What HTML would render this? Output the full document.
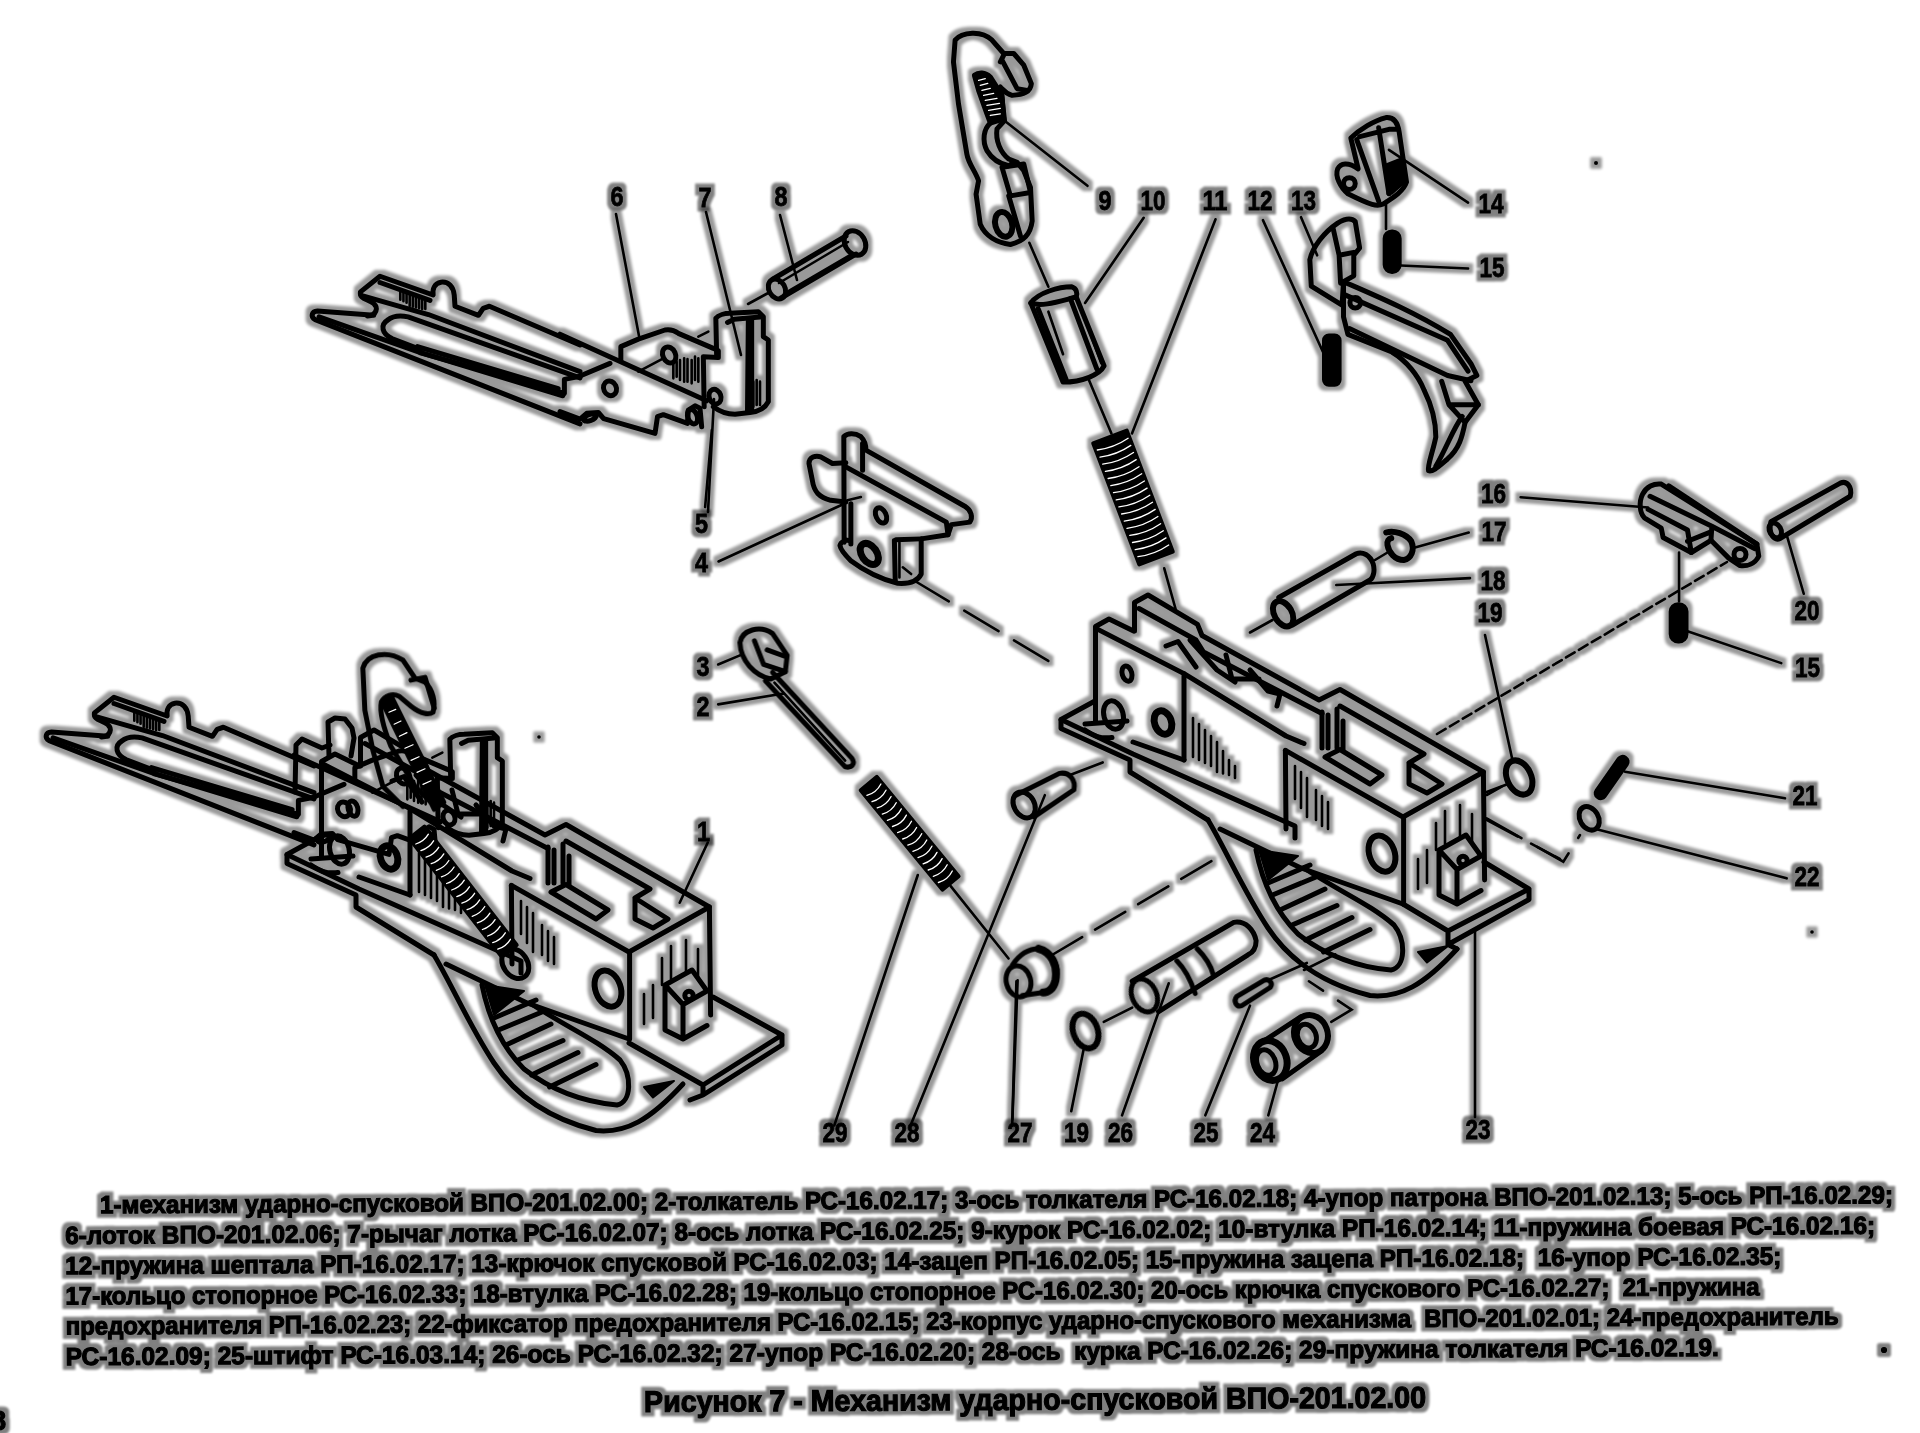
<!DOCTYPE html>
<html><head><meta charset="utf-8"><style>
html,body{margin:0;padding:0;background:#fff;width:1920px;height:1433px;overflow:hidden}
svg{display:block}
text{font-family:"Liberation Sans",sans-serif;font-weight:bold;fill:#000}
.s{fill:none;stroke:#000;stroke-width:5;stroke-linejoin:round;stroke-linecap:round}
.t{fill:none;stroke:#000;stroke-width:2.6;stroke-linecap:round}
.w{fill:#fff;stroke:#000;stroke-width:4.5;stroke-linejoin:round;stroke-linecap:round}
.k{fill:#000;stroke:#000;stroke-width:2;stroke-linejoin:round}
.n{font-size:27px}
</style></head><body>
<svg width="1920" height="1433" viewBox="0 0 1920 1433">
<defs><filter id="halo" x="-2%" y="-2%" width="104%" height="104%" color-interpolation-filters="sRGB">
<feMorphology operator="dilate" radius="3.5" in="SourceAlpha" result="d"/>
<feGaussianBlur in="d" stdDeviation="1.5" result="b"/>
<feComponentTransfer in="b" result="g"><feFuncA type="linear" slope="0.4"/></feComponentTransfer>
<feMerge><feMergeNode in="g"/><feMergeNode in="SourceGraphic"/></feMerge></filter>
<filter id="haloT" x="-2%" y="-20%" width="104%" height="140%" color-interpolation-filters="sRGB">
<feMorphology operator="dilate" radius="3.5" in="SourceAlpha" result="d"/>
<feGaussianBlur in="d" stdDeviation="1.2" result="b"/>
<feComponentTransfer in="b" result="g"><feFuncA type="linear" slope="0.5"/></feComponentTransfer>
<feMerge><feMergeNode in="g"/><feMergeNode in="SourceGraphic"/></feMerge></filter></defs>
<g id="text" filter="url(#haloT)" stroke="#000" stroke-width="1.2"><g transform="rotate(-0.32 65 1213)">
<text x="100" y="1213.5" font-size="25" textLength="1793" lengthAdjust="spacingAndGlyphs">1-механизм ударно-спусковой ВПО-201.02.00; 2-толкатель РС-16.02.17; 3-ось толкателя РС-16.02.18; 4-упор патрона ВПО-201.02.13; 5-ось РП-16.02.29;</text>
<text x="65" y="1244" font-size="25" textLength="1810" lengthAdjust="spacingAndGlyphs">6-лоток ВПО-201.02.06; 7-рычаг лотка РС-16.02.07; 8-ось лотка РС-16.02.25; 9-курок РС-16.02.02; 10-втулка РП-16.02.14; 11-пружина боевая РС-16.02.16;</text>
<text x="65" y="1274.3" font-size="25" textLength="1716" lengthAdjust="spacingAndGlyphs" xml:space="preserve">12-пружина шептала РП-16.02.17; 13-крючок спусковой РС-16.02.03; 14-зацеп РП-16.02.05; 15-пружина зацепа РП-16.02.18;  16-упор РС-16.02.35;</text>
<text x="65" y="1304.6" font-size="25" textLength="1694" lengthAdjust="spacingAndGlyphs" xml:space="preserve">17-кольцо стопорное РС-16.02.33; 18-втулка РС-16.02.28; 19-кольцо стопорное РС-16.02.30; 20-ось крючка спускового РС-16.02.27;  21-пружина</text>
<text x="65" y="1334.6" font-size="25" textLength="1773" lengthAdjust="spacingAndGlyphs" xml:space="preserve">предохранителя РП-16.02.23; 22-фиксатор предохранителя РС-16.02.15; 23-корпус ударно-спускового механизма  ВПО-201.02.01; 24-предохранитель</text>
<text x="65" y="1365.2" font-size="25" textLength="1653" lengthAdjust="spacingAndGlyphs" xml:space="preserve">РС-16.02.09; 25-штифт РС-16.03.14; 26-ось РС-16.02.32; 27-упор РС-16.02.20; 28-ось  курка РС-16.02.26; 29-пружина толкателя РС-16.02.19.</text>
<text x="643" y="1415.2" font-size="30" textLength="782" lengthAdjust="spacingAndGlyphs">Рисунок 7 - Механизм ударно-спусковой ВПО-201.02.00</text>
</g>
<text x="-9" y="1430" font-size="27">8</text>
<circle cx="1884" cy="1350" r="2.5" fill="#000"/>
</g>
<g filter="url(#halo)">
<g id="lotok">
<!-- part 6 left portion: zoom 6.4 origin 280,270 -->
<g transform="translate(280,270) scale(0.15625)" class="s" style="vector-effect:non-scaling-stroke">
<path vector-effect="non-scaling-stroke" d="M600,290 L240,262 C200,265 195,300 225,318 L1920,985"/>
<path vector-effect="non-scaling-stroke" d="M250,300 L890,525 L1810,805"/>
<path vector-effect="non-scaling-stroke" d="M560,295 C620,290 630,240 600,215 C560,185 505,185 515,140 L640,40 L980,160 C975,120 990,85 1030,78 C1080,72 1110,110 1115,160 L1120,232 L1270,290 L1300,245 L1340,232 L1920,480"/>
<path vector-effect="non-scaling-stroke" d="M530,165 L950,285 L1920,650"/>
<path vector-effect="non-scaling-stroke" d="M640,80 L960,195"/>
<path vector-effect="non-scaling-stroke" d="M900,510 L720,440 C650,410 640,350 690,320 C720,295 770,290 820,300 L1920,690"/>
<path vector-effect="non-scaling-stroke" d="M900,530 L1820,790 L1820,700 L1920,680"/>
<path vector-effect="non-scaling-stroke" d="M880,490 L1780,760"/>
</g>
<g transform="translate(280,270) scale(0.15625)" class="t">
<path vector-effect="non-scaling-stroke" d="M770,140 V190 M790,145 V200 M810,150 V210 M830,155 V230 M850,162 V235 M870,168 V240 M890,175 V245 M910,185 V250 M930,190 V250"/>
</g>
<!-- part 6 right + 7 + 5: zoom 6 origin 560,240 -->
<g transform="translate(560,240) scale(0.1666667)" class="s">
<path vector-effect="non-scaling-stroke" d="M0,565 L880,965"/>
<path vector-effect="non-scaling-stroke" d="M120,816 L300,740"/>
<path vector-effect="non-scaling-stroke" d="M365,725 L365,640 L470,595 L630,540 C660,535 690,545 710,560 L920,650 L950,665 L950,705 L860,700 L865,1000"/>
<path vector-effect="non-scaling-stroke" d="M940,700 L935,470 C950,450 990,440 1020,440 L1190,430 L1220,460 L1220,580 L1250,600 L1250,970 C1230,1010 1190,1030 1140,1035 L1050,1045 C1000,1045 960,1030 920,1000"/>
<path vector-effect="non-scaling-stroke" d="M1005,495 L1045,475 L1200,462"/>
<path vector-effect="non-scaling-stroke" d="M1130,480 L1125,1035 M1150,480 L1150,1020"/>
<path vector-effect="non-scaling-stroke" d="M0,1030 L120,1075 L160,1040 L230,1035 L262,1072 L570,1160 L585,1060 L620,1048 L765,1100 L770,1020 L810,995 L840,1010 L850,1120"/>
<ellipse vector-effect="non-scaling-stroke" cx="655" cy="690" rx="38" ry="50" transform="rotate(-25 655 690)"/>
<ellipse vector-effect="non-scaling-stroke" cx="300" cy="890" rx="38" ry="45" transform="rotate(-25 300 890)"/>
<ellipse vector-effect="non-scaling-stroke" cx="930" cy="940" rx="35" ry="45" transform="rotate(-20 930 940)"/>
<ellipse vector-effect="non-scaling-stroke" cx="795" cy="1060" rx="28" ry="45" transform="rotate(-20 795 1060)"/>
<ellipse vector-effect="non-scaling-stroke" cx="180" cy="1065" rx="40" ry="18" transform="rotate(-20 180 1065)"/>
</g>
<g transform="translate(560,240) scale(0.1666667)" class="t">
<path vector-effect="non-scaling-stroke" d="M680,740 V830 M700,730 V820 M720,720 V840 M745,710 V850 M765,715 V850 M790,720 V860 M810,700 V840 M830,710 V850"/>
<path vector-effect="non-scaling-stroke" d="M470,790 L620,710 M830,580 L890,550 M1160,850 V1000 M1180,840 V990 M1200,850 V990"/>
</g>
</g>
<!-- pin 8 -->
<g class="s">
<path d="M773,279 L846,236 M781,298 L856,254"/>
<ellipse cx="777" cy="289" rx="8" ry="10.5" transform="rotate(-30 777 289)"/>
<ellipse cx="855" cy="243" rx="10" ry="13" transform="rotate(-30 855 243)"/>
</g>
<path class="t" d="M779,283 L848,242 M785,293 L850,255 M748,304 L770,292 M780,215 L797,280"/>
<path class="t" d="M616,214 L639,336 M706,212 L741,355 M714,399 L708,512"/>
<!-- part 4: zoom 5.97 origin 680,430 -->
<g transform="translate(680,430) scale(0.1675)" class="s">
<path vector-effect="non-scaling-stroke" d="M990,430 L900,420 C830,400 800,370 790,300 L770,200 C770,160 810,150 840,160 L910,200 L990,195"/>
<path vector-effect="non-scaling-stroke" d="M980,670 L978,40 C1000,20 1040,15 1080,40 C1100,60 1110,90 1110,120 L1700,455 C1740,480 1750,520 1730,550 L1620,565 L1600,625 L1440,650 L1440,860 C1420,900 1370,920 1300,915 C1200,890 1100,840 1020,780 C990,750 960,720 955,690 C960,665 990,655 1010,660"/>
<path vector-effect="non-scaling-stroke" d="M990,220 L1590,550 L1600,625"/>
<path vector-effect="non-scaling-stroke" d="M1020,440 L1020,680"/>
<path vector-effect="non-scaling-stroke" d="M1280,660 L1285,900 M1290,655 L1440,650"/>
<path vector-effect="non-scaling-stroke" d="M1090,80 L1090,240"/>
<ellipse vector-effect="non-scaling-stroke" cx="1200" cy="510" rx="30" ry="48" transform="rotate(-25 1200 510)"/>
<ellipse vector-effect="non-scaling-stroke" cx="1130" cy="740" rx="45" ry="70" transform="rotate(-35 1130 740)" style="stroke-width:7"/>
</g>
<g transform="translate(680,430) scale(0.1675)" class="t">
<path vector-effect="non-scaling-stroke" d="M230,785 L980,440 M1000,420 L1080,400 M190,0 L150,460 M1310,670 L1310,880 M1330,820 L1380,860"/>
<path vector-effect="non-scaling-stroke" d="M1400,900 L2239,1403" stroke-dasharray="40 18"/>
</g>
<!-- hammer 9: zoom 5.97 origin 930,20 -->
<g transform="translate(930,20) scale(0.1675)" class="s">
<path vector-effect="non-scaling-stroke" d="M150,120 C190,70 310,60 370,120 L440,200 L500,200 L560,270 L605,380 C600,430 560,445 490,450 C450,440 440,420 420,400 L430,470 L445,600 L400,650 C390,720 420,790 470,830 L520,850 L560,900 L600,1000 L610,1200 C600,1280 560,1320 480,1340 C400,1330 330,1290 300,1220 L275,1040 L290,960 C270,900 230,860 220,800 L170,500 L140,250 Z"/>
<path vector-effect="non-scaling-stroke" d="M265,330 C290,310 330,310 360,340 L430,450 L440,590 L360,615 L340,560 L290,420 Z" style="fill:#000"/>
<path vector-effect="non-scaling-stroke" d="M360,615 C320,650 310,720 340,780 C370,830 420,860 470,870 L500,850"/>
<path vector-effect="non-scaling-stroke" d="M420,250 L440,210 M430,240 L520,410 L580,420"/>
<path vector-effect="non-scaling-stroke" d="M430,880 L560,860 L600,1030 L480,1050 Z"/>
<path vector-effect="non-scaling-stroke" d="M470,1050 L540,1290"/>
<ellipse vector-effect="non-scaling-stroke" cx="440" cy="1220" rx="50" ry="75" transform="rotate(-15 440 1220)" style="stroke-width:6"/>
</g>
<g transform="translate(930,20) scale(0.1675)" class="t">
<path vector-effect="non-scaling-stroke" d="M430,590 L940,990"/>
<path vector-effect="non-scaling-stroke" d="M290,360 L330,350 M300,390 L345,378 M310,420 L360,408 M320,450 L380,438 M330,480 L400,468 M340,510 L415,498 M350,540 L420,528 M360,570 L420,560" style="stroke:#fff;stroke-width:1.3"/>
</g>
<!-- bushing 10 + spring 11: zoom 3.41 origin 1000,190 -->
<g transform="translate(1000,190) scale(0.29326)" class="s">
<path vector-effect="non-scaling-stroke" d="M105,385 C130,350 200,330 245,330 C260,335 265,350 260,365 L355,600 C340,630 280,655 215,655 Z"/>
<path vector-effect="non-scaling-stroke" d="M105,385 C140,400 200,380 260,365"/>
<path vector-effect="non-scaling-stroke" d="M130,405 L225,645 M240,370 L330,610"/>
</g>
<g transform="translate(1000,190) scale(0.29326)" class="t">
<path vector-effect="non-scaling-stroke" d="M165,415 L215,560 M260,360 L345,590 M100,180 L165,330 M300,640 L380,830 M560,1290 L600,1433 M490,95 L290,385 M735,100 L450,830"/>
</g>
<g id="spring11"><path d="M1093.2,443.4 L1139.2,564.4 L1172.8,551.6 L1126.8,430.6 Z" fill="#000" stroke="#000" stroke-width="4" stroke-linejoin="round"/>
<path d="M1097.3,450.0 Q1114.1,447.9 1128.1,438.3 M1100.0,457.1 Q1116.8,455.0 1130.8,445.4 M1102.7,464.2 Q1119.5,462.1 1133.5,452.5 M1105.4,471.3 Q1122.2,469.2 1136.2,459.6 M1108.1,478.5 Q1125.0,476.3 1139.0,466.7 M1110.8,485.6 Q1127.7,483.4 1141.7,473.8 M1113.5,492.7 Q1130.4,490.6 1144.4,481.0 M1116.2,499.8 Q1133.1,497.7 1147.1,488.1 M1118.9,506.9 Q1135.8,504.8 1149.8,495.2 M1121.6,514.0 Q1138.5,511.9 1152.5,502.3 M1124.3,521.2 Q1141.2,519.0 1155.2,509.4 M1127.0,528.3 Q1143.9,526.2 1157.9,516.5 M1129.8,535.4 Q1146.6,533.3 1160.6,523.7 M1132.5,542.5 Q1149.3,540.4 1163.3,530.8 M1135.2,549.6 Q1152.0,547.5 1166.0,537.9 M1137.9,556.7 Q1154.7,554.6 1168.7,545.0" fill="none" stroke="#fff" stroke-width="1.3" stroke-linecap="round"/></g>
<!-- parts 12-15: zoom 3.4125 origin 1260,100 -->
<g transform="translate(1260,100) scale(0.29304)" class="s">
<path vector-effect="non-scaling-stroke" d="M310,130 C340,100 390,70 430,60 C455,58 470,75 475,110 L500,280 C490,310 460,330 420,355 C400,365 380,360 300,320 C275,300 255,260 265,235 C275,215 300,210 335,235 L310,130 Z"/>
<path vector-effect="non-scaling-stroke" d="M330,135 L405,345 M340,125 L440,100 L465,100 M405,95 L440,320"/>
<circle vector-effect="non-scaling-stroke" cx="305" cy="285" r="20"/>
<path vector-effect="non-scaling-stroke" d="M175,635 L170,545 C180,500 220,450 265,420 C290,405 310,400 325,415 L340,505 L320,530 L320,600 L285,620 L280,700 Z"/>
<path vector-effect="non-scaling-stroke" d="M250,440 L270,530 L320,520 M270,530 L275,625"/>
<path vector-effect="non-scaling-stroke" d="M285,620 C400,670 520,720 650,800 L720,900 L740,940 L700,960 L745,1040 L700,1100 C690,1150 680,1190 640,1225 C610,1250 590,1270 575,1265 C570,1250 590,1200 600,1150 C600,1100 590,1050 560,990 C540,940 500,890 450,860 L300,800 L285,740 Z"/>
<path vector-effect="non-scaling-stroke" d="M290,665 L640,820 L710,925 M305,780 L640,940 L720,958 M620,960 L645,1040 L745,1040 M645,1040 L700,1100 M690,1080 C660,1120 640,1180 600,1250"/>
<circle vector-effect="non-scaling-stroke" cx="325" cy="692" r="18"/>
</g>
<g transform="translate(1260,100) scale(0.29304)" class="t">
<path vector-effect="non-scaling-stroke" d="M440,170 L710,350 M480,565 L710,575 M430,345 L430,440 M10,410 L215,860 M140,400 L195,530"/>
<path vector-effect="non-scaling-stroke" d="M430,220 L480,200 L495,280 L450,320 L435,320 Z" style="fill:#000;stroke-width:2"/>
</g>
<g transform="translate(1260,100) scale(0.29304)" class="k">
<rect vector-effect="non-scaling-stroke" x="422" y="445" width="58" height="145" rx="28"/>
<rect vector-effect="non-scaling-stroke" x="215" y="800" width="60" height="175" rx="20"/>
</g>
<!-- body 23 -->
<g id="body23">
<g transform="translate(1040,580) scale(0.3)" class="s">
<!-- left plate -->
<path vector-effect="non-scaling-stroke" d="M185,470 L185,155 L230,130 L312,170"/>
<path vector-effect="non-scaling-stroke" d="M188,162 L480,312 L480,600"/>
<path vector-effect="non-scaling-stroke" d="M310,540 L480,600"/>
<!-- inner wall -->
<path vector-effect="non-scaling-stroke" d="M315,170 L315,75 L360,50 L525,148 L540,185 L930,400 L1000,365 L1478,640 L1210,790 L818,568"/>
<path vector-effect="non-scaling-stroke" d="M330,95 L520,200 L545,240 L940,445"/>
<path vector-effect="non-scaling-stroke" d="M480,312 L820,520 L880,545"/>
<path vector-effect="non-scaling-stroke" d="M818,568 L820,830 M1478,640 L1482,1000 M1212,790 L1212,1080"/>
<path vector-effect="non-scaling-stroke" d="M420,220 L460,205 L520,290 M500,200 L590,300 L650,340 M620,250 L640,330 L730,330 M700,300 L760,370 L800,380 L790,420"/>
<!-- top slots of right box -->
<path vector-effect="non-scaling-stroke" d="M950,590 L1000,565 L1140,650 L1100,680 Z"/>
<path vector-effect="non-scaling-stroke" d="M1000,420 L1280,580 L1230,610 L1340,680 L1290,710 L1230,680 L1230,610 M990,430 L990,560"/>
<path vector-effect="non-scaling-stroke" d="M940,440 L940,560 M960,450 L960,560 M1010,470 L1010,565"/>
<!-- flange left + lower rail -->
<path vector-effect="non-scaling-stroke" d="M180,405 L70,465 L70,495 L300,600 L300,640 L560,800"/>
<path vector-effect="non-scaling-stroke" d="M70,465 L310,580 L850,820 L850,860"/>
<path vector-effect="non-scaling-stroke" d="M150,480 L290,470 M150,500 C180,520 200,530 240,525"/>
<!-- trigger guard -->
<path vector-effect="non-scaling-stroke" d="M560,800 C620,900 680,1040 760,1160 C840,1280 960,1350 1100,1385 C1200,1395 1280,1350 1390,1230"/>
<path vector-effect="non-scaling-stroke" d="M720,900 C740,1000 780,1100 860,1180 C950,1250 1060,1290 1170,1300 C1220,1290 1220,1200 1180,1150 C1100,1080 1000,1040 880,960"/>
<path vector-effect="non-scaling-stroke" d="M600,830 L870,960 L1210,1080"/>
<path vector-effect="non-scaling-stroke" d="M760,1010 L900,950 M775,1050 L920,990 M800,1100 L950,1030 M840,1150 L990,1085 M885,1200 L1040,1125 M945,1240 L1100,1165"/>
<!-- right face block -->
<path vector-effect="non-scaling-stroke" d="M1330,900 L1420,850 L1470,920 L1390,965 Z M1330,900 L1330,1050 L1390,1080 L1470,1035 M1390,965 L1390,1080"/>
<circle vector-effect="non-scaling-stroke" cx="1410" cy="935" r="14"/>
<ellipse vector-effect="non-scaling-stroke" cx="1140" cy="912" rx="42" ry="62" transform="rotate(-20 1140 912)" style="stroke-width:6"/>
<ellipse vector-effect="non-scaling-stroke" cx="290" cy="312" rx="16" ry="26" transform="rotate(-15 290 312)"/>
<ellipse vector-effect="non-scaling-stroke" cx="245" cy="450" rx="32" ry="48" transform="rotate(-15 245 450)"/>
<ellipse vector-effect="non-scaling-stroke" cx="410" cy="475" rx="28" ry="40" transform="rotate(-20 410 475)" style="stroke-width:7"/>
</g>
<g transform="translate(1040,580) scale(0.3)" class="k">
<path vector-effect="non-scaling-stroke" d="M730,900 L860,920 L760,1000 Z M1260,1240 L1360,1220 L1290,1275 Z"/>
</g>
<g transform="translate(1040,580) scale(0.3)" class="t">
<path vector-effect="non-scaling-stroke" d="M510,460 V590 M530,480 V600 M550,500 V610 M570,520 V620 M590,540 V640 M610,570 V645 M630,600 V650 M650,620 V660"/>
<path vector-effect="non-scaling-stroke" d="M850,620 V730 M870,640 V760 M890,660 V790 M920,700 V800 M940,720 V820 M960,740 V830"/>
<path vector-effect="non-scaling-stroke" d="M1260,930 V1030 M1290,900 V1010 M1320,810 V900 M1350,770 V880 M1400,750 V860 M1440,780 V880"/>
</g>
</g>
<g transform="translate(1040,580) scale(0.3)" class="s"><path vector-effect="non-scaling-stroke" d="M1210,1080 L1360,1170 L1630,1030 L1480,940 M1360,1170 L1360,1215 L1630,1065 L1630,1030 M1360,1215 L1390,1230"/></g>
<g transform="translate(1040,580) scale(0.3)" class="t"><path vector-effect="non-scaling-stroke" d="M1480,710 L1560,680 M1490,800 L1733,930 M40,1250 L600,920 M100,650 L230,600 M880,1300 L1000,1240" stroke-dasharray="35 15"/></g>
<path class="t" d="M1437,734 L1727,562" stroke-dasharray="10 5"/>
<path class="t" d="M1475,930 L1475,1117"/>
<!-- mechanism 1 -->
<use href="#lotok" transform="translate(-266,421)"/>
<use href="#body23" transform="translate(-774,135)"/>
<g transform="translate(30,630) scale(0.40104)" class="s">
<path vector-effect="non-scaling-stroke" d="M930,440 L880,390 L855,300 L835,200 L830,95 C840,60 890,50 930,75 L960,120 L985,130 C1005,150 1012,180 1005,205 C995,212 975,210 950,190 L920,165 C905,158 885,162 876,180 C872,200 880,240 900,290 L960,390 L1000,430"/>
<path vector-effect="non-scaling-stroke" d="M878,178 L902,168 L1032,430 L1008,447 Z" style="fill:#000"/>
<path vector-effect="non-scaling-stroke" d="M950,125 L985,118 L1008,195"/>
<ellipse vector-effect="non-scaling-stroke" cx="1210" cy="832" rx="30" ry="40" transform="rotate(-35 1210 832)"/>
</g>
<path class="s" d="M629,1043 L703,1085 L782,1035 L713,997 M703,1085 L703,1095 L782,1045 L782,1035 M703,1095 L690,1100"/>
<g transform="translate(30,630) scale(0.40104)" class="t">
<path vector-effect="non-scaling-stroke" d="M1690,530 L1620,680"/>
<path vector-effect="non-scaling-stroke" d="M895,205 L912,198 M908,235 L925,227 M921,265 L940,256 M935,295 L955,286 M950,325 L970,316 M965,355 L985,346 M980,385 L1000,376" style="stroke:#fff;stroke-width:1.2"/>
</g>
<g id="spring1"><path d="M409.5,838.4 L501.8,956.7 L516.7,945.0 L424.5,826.7 Z" fill="#000" stroke="#000" stroke-width="4" stroke-linejoin="round"/>
<path d="M415.8,844.0 Q424.0,841.5 428.4,834.2 M420.9,850.6 Q429.1,848.0 433.6,840.8 M426.1,857.2 Q434.2,854.6 438.7,847.3 M431.2,863.7 Q439.3,861.2 443.8,853.9 M436.3,870.3 Q444.5,867.8 448.9,860.5 M441.4,876.9 Q449.6,874.3 454.1,867.0 M446.6,883.5 Q454.7,880.9 459.2,873.6 M451.7,890.0 Q459.8,887.5 464.3,880.2 M456.8,896.6 Q465.0,894.0 469.4,886.8 M461.9,903.2 Q470.1,900.6 474.6,893.3 M467.1,909.7 Q475.2,907.2 479.7,899.9 M472.2,916.3 Q480.3,913.8 484.8,906.5 M477.3,922.9 Q485.5,920.3 489.9,913.1 M482.4,929.5 Q490.6,926.9 495.1,919.6 M487.6,936.0 Q495.7,933.5 500.2,926.2 M492.7,942.6 Q500.8,940.1 505.3,932.8 M497.8,949.2 Q506.0,946.6 510.4,939.3" fill="none" stroke="#fff" stroke-width="1.3" stroke-linecap="round"/></g>
<path class="s" d="M295,792 L296,745 L302,739 L313,744 L322,748 L330,745"/>
<path class="s" d="M329,756 L328,722 L335,718 L345,719 L352,728 L354,738 L351,756"/>
<!-- 16, 20, 15 right -->
<g transform="translate(1500,470) scale(0.1875)" class="s">
<path vector-effect="non-scaling-stroke" d="M760,130 C780,90 820,70 860,75 L1370,395 L1380,460 C1360,500 1320,515 1280,510 L1220,470 L1125,375 L1020,440 L870,360 L860,310 L770,255 C745,230 740,170 760,130 Z"/>
<path vector-effect="non-scaling-stroke" d="M800,140 L1130,300 L1125,375 M900,85 L1370,395 M790,210 L1000,320 L1020,440 M1000,380 L1125,330 M1130,300 L1360,420"/>
<circle vector-effect="non-scaling-stroke" cx="1280" cy="450" r="32"/>
<path vector-effect="non-scaling-stroke" d="M1445,275 L1815,70 C1850,55 1880,90 1868,140 L1495,365 C1460,380 1430,335 1445,275 Z"/>
<ellipse vector-effect="non-scaling-stroke" cx="1468" cy="322" rx="30" ry="42" transform="rotate(-30 1468 322)"/>
</g>
<g transform="translate(1500,470) scale(0.1875)" class="k">
<rect vector-effect="non-scaling-stroke" x="905" y="710" width="95" height="210" rx="45"/>
</g>
<g transform="translate(1500,470) scale(0.1875)" class="t">
<path vector-effect="non-scaling-stroke" d="M110,145 L790,200 M1530,350 L1620,660 M1000,860 L1500,1030 M955,440 L955,700"/>

</g>
<!-- 18, 17 -->
<g transform="translate(1250,510) scale(0.125)" class="s">
<path vector-effect="non-scaling-stroke" d="M230,700 L850,350 C900,330 960,360 985,430 C1000,480 990,540 960,560 L340,920"/>
<ellipse vector-effect="non-scaling-stroke" cx="265" cy="830" rx="70" ry="110" transform="rotate(-30 265 830)" style="stroke-width:6"/>
<path vector-effect="non-scaling-stroke" d="M1090,180 C1150,160 1250,190 1290,250 C1320,320 1290,390 1230,400 C1160,400 1110,340 1100,280 C1095,250 1110,230 1130,225" style="stroke-width:6"/>
</g>
<g transform="translate(1250,510) scale(0.125)" class="t">
<path vector-effect="non-scaling-stroke" d="M690,600 L1760,545 M1320,300 L1750,180 M1000,400 L1100,340 M0,980 L180,880"/>
</g>
<!-- 19 right, 21, 22 -->
<g transform="translate(1480,740) scale(0.166667)" class="s">
<ellipse vector-effect="non-scaling-stroke" cx="235" cy="225" rx="72" ry="108" transform="rotate(-25 235 225)" style="stroke-width:6"/>
<ellipse vector-effect="non-scaling-stroke" cx="655" cy="470" rx="55" ry="75" transform="rotate(-30 655 470)"/>
</g>
<g transform="translate(1480,740) scale(0.166667)" class="k">
<rect vector-effect="non-scaling-stroke" x="-35" y="-150" width="70" height="300" rx="33" transform="translate(790,225) rotate(35)"/>
</g>
<g transform="translate(1480,740) scale(0.166667)" class="t">
<path vector-effect="non-scaling-stroke" d="M870,190 L1830,350 M700,535 L1840,830 M40,330 L130,280 M30,-630 L192,108"/>
<path vector-effect="non-scaling-stroke" d="M40,470 L500,730 L600,570" stroke-dasharray="40 18"/>
</g>
<!-- 24-28 bottom -->
<g transform="translate(990,900) scale(0.20313)" class="s">
<path vector-effect="non-scaling-stroke" d="M110,320 C150,260 200,240 240,240 C290,250 320,290 330,340 C330,400 300,440 260,455 L160,470"/>
<path vector-effect="non-scaling-stroke" d="M240,240 C300,255 335,320 322,395 C312,440 285,455 262,455" style="stroke-width:8"/>
<ellipse vector-effect="non-scaling-stroke" cx="140" cy="400" rx="60" ry="78" transform="rotate(-15 140 400)"/>
<ellipse vector-effect="non-scaling-stroke" cx="470" cy="645" rx="60" ry="88" transform="rotate(-20 470 645)" style="stroke-width:6"/>
<path vector-effect="non-scaling-stroke" d="M700,400 L1200,110 C1260,100 1300,150 1310,200 C1310,240 1290,260 1270,270 L830,550"/>
<ellipse vector-effect="non-scaling-stroke" cx="760" cy="470" rx="60" ry="85" transform="rotate(-25 760 470)"/>
<path vector-effect="non-scaling-stroke" d="M920,300 C960,340 990,400 1010,460 M1020,240 C1060,280 1090,330 1100,370"/>
<path vector-effect="non-scaling-stroke" d="M1215,475 L1350,395 C1375,385 1395,410 1380,430 L1240,520 C1215,530 1195,500 1215,475 Z"/>
<ellipse vector-effect="non-scaling-stroke" cx="1380" cy="790" rx="80" ry="100" transform="rotate(-20 1380 790)" style="stroke-width:7"/>
<ellipse vector-effect="non-scaling-stroke" cx="1360" cy="800" rx="45" ry="65" transform="rotate(-20 1360 800)"/>
<ellipse vector-effect="non-scaling-stroke" cx="1580" cy="660" rx="82" ry="95" transform="rotate(-20 1580 660)" style="stroke-width:6"/>
<ellipse vector-effect="non-scaling-stroke" cx="1560" cy="670" rx="45" ry="60" transform="rotate(-20 1560 670)"/>
<path vector-effect="non-scaling-stroke" d="M1340,700 L1530,575 M1440,880 L1630,745"/>
</g>
<g transform="translate(990,900) scale(0.20313)" class="t">
<path vector-effect="non-scaling-stroke" d="M130,400 L110,1080 M460,740 L400,1040 M880,410 L650,1060 M1280,520 L1060,1060 M1420,880 L1370,1060"/>
<path vector-effect="non-scaling-stroke" d="M560,600 L700,530 M1380,390 L1560,310 M1680,600 L1780,540 L1570,400" stroke-dasharray="40 18"/>
</g>
<!-- 2, 3, 29, 28 -->
<g transform="translate(700,610) scale(0.363)" class="s">
<path vector-effect="non-scaling-stroke" d="M110,90 C115,55 165,40 200,65 L240,125 L235,170 L195,190 C150,180 112,140 110,90 Z"/>
<path vector-effect="non-scaling-stroke" d="M150,85 L175,150 L235,170 M185,110 L235,128"/>
<path vector-effect="non-scaling-stroke" d="M200,172 L418,408 C428,422 420,436 400,432 L180,195"/>
<path vector-effect="non-scaling-stroke" d="M870,510 L990,450 C1020,445 1035,470 1030,495 L920,570"/>
<ellipse vector-effect="non-scaling-stroke" cx="893" cy="537" rx="28" ry="38" transform="rotate(-30 893 537)"/>
</g>
<g transform="translate(700,610) scale(0.363)" class="t">
<path vector-effect="non-scaling-stroke" d="M50,150 L110,125 M50,260 L230,230 M600,730 L370,1420 M950,510 L580,1420 M875,1020 L860,1420 M690,760 L850,960 M205,200 L400,415"/>
</g>
<g id="spring29"><path d="M860.7,790.2 L942.4,889.6 L958.6,876.3 L876.9,776.9 Z" fill="#000" stroke="#000" stroke-width="4" stroke-linejoin="round"/>
<path d="M866.9,795.4 Q876.4,792.8 880.9,784.0 M872.0,801.7 Q881.5,799.0 886.0,790.2 M877.2,807.9 Q886.6,805.3 891.1,796.5 M882.3,814.1 Q891.8,811.5 896.2,802.7 M887.4,820.3 Q896.9,817.7 901.3,808.9 M892.5,826.5 Q902.0,823.9 906.4,815.1 M897.6,832.7 Q907.1,830.1 911.5,821.3 M902.7,839.0 Q912.2,836.3 916.6,827.5 M907.8,845.2 Q917.3,842.6 921.7,833.7 M912.9,851.4 Q922.4,848.8 926.8,840.0 M918.0,857.6 Q927.5,855.0 931.9,846.2 M923.1,863.8 Q932.6,861.2 937.0,852.4 M928.2,870.0 Q937.7,867.4 942.1,858.6 M933.3,876.3 Q942.8,873.6 947.2,864.8 M938.4,882.5 Q947.9,879.9 952.3,871.0" fill="none" stroke="#fff" stroke-width="1.3" stroke-linecap="round"/></g>
<circle cx="1596" cy="163" r="2" fill="#000"/>
<circle cx="1812" cy="932" r="1.8" fill="#000"/>
<circle cx="539" cy="737" r="1.8" fill="#000"/>
</g>
<g id="labels" font-size="27" text-anchor="middle" filter="url(#haloT)" stroke="#000" stroke-width="0.8">
<text x="617" y="206" textLength="13" lengthAdjust="spacingAndGlyphs">6</text><text x="705" y="207" textLength="13" lengthAdjust="spacingAndGlyphs">7</text><text x="781" y="206" textLength="13" lengthAdjust="spacingAndGlyphs">8</text>
<text x="1105" y="210" textLength="13" lengthAdjust="spacingAndGlyphs">9</text><text x="1153" y="210" textLength="25" lengthAdjust="spacingAndGlyphs">10</text><text x="1215" y="210" textLength="25" lengthAdjust="spacingAndGlyphs">11</text><text x="1260" y="210" textLength="25" lengthAdjust="spacingAndGlyphs">12</text><text x="1303.5" y="210" textLength="25" lengthAdjust="spacingAndGlyphs">13</text>
<text x="1491" y="213" textLength="25" lengthAdjust="spacingAndGlyphs">14</text><text x="1492" y="277" textLength="25" lengthAdjust="spacingAndGlyphs">15</text>
<text x="1493.5" y="502.5" textLength="25" lengthAdjust="spacingAndGlyphs">16</text><text x="1494" y="540.5" textLength="25" lengthAdjust="spacingAndGlyphs">17</text><text x="1493" y="589.5" textLength="25" lengthAdjust="spacingAndGlyphs">18</text><text x="1490" y="622" textLength="25" lengthAdjust="spacingAndGlyphs">19</text>
<text x="1807" y="620" textLength="25" lengthAdjust="spacingAndGlyphs">20</text><text x="1807.5" y="676.5" textLength="25" lengthAdjust="spacingAndGlyphs">15</text><text x="1805" y="805" textLength="25" lengthAdjust="spacingAndGlyphs">21</text><text x="1807" y="886" textLength="25" lengthAdjust="spacingAndGlyphs">22</text>
<text x="701.5" y="532.7" textLength="13" lengthAdjust="spacingAndGlyphs">5</text><text x="701.5" y="571.6" textLength="13" lengthAdjust="spacingAndGlyphs">4</text><text x="703" y="676" textLength="13" lengthAdjust="spacingAndGlyphs">3</text><text x="703" y="716" textLength="13" lengthAdjust="spacingAndGlyphs">2</text><text x="703.5" y="841" textLength="13" lengthAdjust="spacingAndGlyphs">1</text>
<text x="835" y="1142" textLength="25" lengthAdjust="spacingAndGlyphs">29</text><text x="907" y="1142" textLength="25" lengthAdjust="spacingAndGlyphs">28</text><text x="1020" y="1142" textLength="25" lengthAdjust="spacingAndGlyphs">27</text><text x="1076.5" y="1142" textLength="25" lengthAdjust="spacingAndGlyphs">19</text><text x="1120.5" y="1142" textLength="25" lengthAdjust="spacingAndGlyphs">26</text><text x="1206" y="1142" textLength="25" lengthAdjust="spacingAndGlyphs">25</text><text x="1262.5" y="1142" textLength="25" lengthAdjust="spacingAndGlyphs">24</text><text x="1478" y="1138.5" textLength="25" lengthAdjust="spacingAndGlyphs">23</text>
</g>
</svg>
</body></html>
